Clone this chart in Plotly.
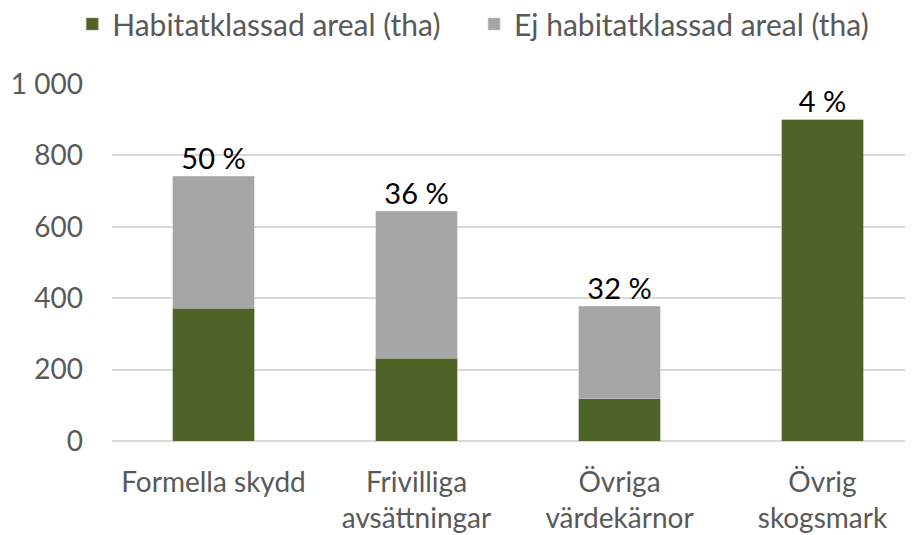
import plotly.graph_objects as go

categories = ["Formella skydd", "Frivilliga<br>avsättningar", "Övriga<br>värdekärnor", "Övrig<br>skogsmark"]
habitat = [372, 232, 118, 900]
ej_habitat = [370, 411, 260, 0]
pct_labels = ["50 %", "36 %", "32 %", "4 %"]
y_ticks = [0, 200, 400, 600, 800, 1000]
y_ticklabels = ["0", "200", "400", "600", "800", "1 000"]

totals = [a + b for a, b in zip(habitat, ej_habitat)]

FONT = "Lato"
fig = go.Figure()
fig.add_bar(x=categories, y=habitat, name="Habitatklassad areal (tha)", legend="legend",
            marker=dict(color="#4F6228", line=dict(color="#8a9a70", width=0.5)))
fig.add_bar(x=categories, y=ej_habitat, name="Ej habitatklassad areal (tha)", legend="legend2",
            marker=dict(color="#A6A6A6", line=dict(color="#c8c8c8", width=0.5)))
fig.add_scatter(x=categories, y=totals, mode="text", text=pct_labels,
                textposition="top center", showlegend=False, hoverinfo="skip",
                textfont=dict(family=FONT, size=29, color="#000000"))

legend_common = dict(orientation="h", xref="container", yref="paper",
                     xanchor="left", y=1.168, yanchor="middle",
                     font=dict(family=FONT, size=30, color="#595959"),
                     itemwidth=30, bgcolor="rgba(0,0,0,0)")

fig.update_layout(
    width=905, height=527,
    barmode="stack", bargap=0.6,
    plot_bgcolor="white", paper_bgcolor="white",
    margin=dict(l=104, r=0, t=76, b=94, autoexpand=False),
    font=dict(family=FONT, size=29, color="#595959"),
    legend=dict(x=0.071, **legend_common),
    legend2=dict(x=0.515, **legend_common),
    xaxis=dict(range=[-0.5, 3.446], showgrid=False, showline=False, ticks="",
               automargin=False, ticklabelstandoff=22,
               tickfont=dict(family=FONT, size=28, color="#595959")),
    yaxis=dict(range=[0, 1000], tickvals=y_ticks, ticktext=y_ticklabels,
               showgrid=True, gridcolor="#D9D9D9", gridwidth=1.5,
               zeroline=True, zerolinecolor="#D9D9D9", zerolinewidth=1.5,
               showline=False, ticks="", ticklabelstandoff=28, automargin=False,
               tickfont=dict(family=FONT, size=28, color="#595959")),
)
fig.write_html("out.html")
